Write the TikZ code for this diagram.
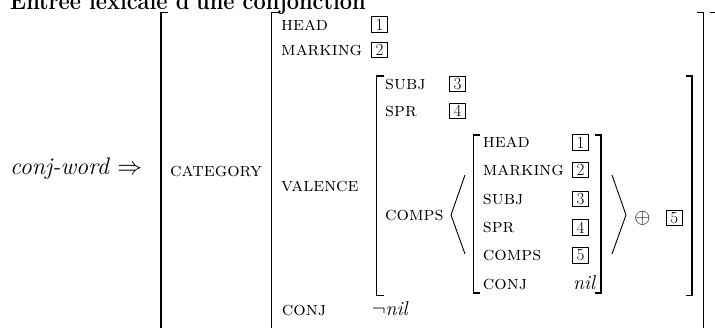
\documentclass[tikz,border=0pt]{standalone}
\usepackage{fontspec}
\usepackage{amsmath,amssymb}
\begin{document}
\begin{tikzpicture}[x=1pt,y=-1pt,
  lbl/.style={anchor=base west, inner sep=0pt, font=\fontsize{19.5}{22}\selectfont\scshape},
  val/.style={anchor=base west, inner sep=0pt, font=\fontsize{20}{23}\selectfont\itshape},
  tagbox/.style={draw, line width=0.6pt, minimum size=15.5pt, inner sep=0pt, font=\fontsize{17}{19}\selectfont},
  brk/.style={line width=1.3pt},
  angle/.style={line width=0.9pt}]
\useasboundingbox (0,0) rectangle (715,328);
\clip (0,0) rectangle (715,328);
% title (cut off at top)
\node[anchor=base west, inner sep=0pt, font=\fontsize{25}{28}\selectfont\bfseries] (title) at (10,9.3) {\scalebox{0.87}[1]{Entrée lexicale d'une conjonction}};
% left
\node[anchor=base west, inner sep=0pt, font=\fontsize{24}{27}\selectfont] (cw) at (10,175) {\textit{conj-word} $\Rightarrow$};
% outer bracket
\draw[brk] (168,12.7) -- (161,12.7) -- (161,340);
\draw[brk] (710,12.7) -- (717.5,12.7) -- (717.5,340);
\node[lbl] (cat) at (170,176.5) {category};
% category bracket
\draw[brk] (279,12.7) -- (271.7,12.7) -- (271.7,340);
\draw[brk] (696.5,12.7) -- (703.5,12.7) -- (703.5,340);
\node[lbl] (head2) at (281,30.7) {head};
\node[tagbox] (t1a) at (379.5,24.5) {1};
\node[lbl] (mark2) at (281,56) {marking};
\node[tagbox] (t2a) at (379.5,50) {2};
\node[lbl] (val2) at (281,191.7) {valence};
\node[lbl] (conj2) at (281.7,315.7) {conj};
\node[anchor=base west, inner sep=0pt, font=\fontsize{20}{23}\selectfont] (nnil) at (371.7,316) {$\neg$\textit{nil}};
% valence bracket
\draw[brk] (383.5,76) -- (376.7,76) -- (376.7,295.5) -- (383.5,295.5);
\draw[brk] (685.5,76) -- (692,76) -- (692,295.5) -- (685.5,295.5);
\node[lbl] (subj3) at (385,89.5) {subj};
\node[tagbox] (t3a) at (457.5,84) {3};
\node[lbl] (spr3) at (385,116.5) {spr};
\node[tagbox] (t4a) at (457.5,111) {4};
\node[lbl] (comps3) at (385,220.5) {comps};
% angle brackets
\draw[angle] (465,175) -- (451,215) -- (465,254);
\draw[angle] (612,175) -- (626,215) -- (612,254);
\node[inner sep=0pt, font=\fontsize{20}{23}\selectfont] (oplus) at (642.5,218) {$\oplus$};
\node[tagbox] (t5a) at (674.3,218) {5};
% inner bracket
\draw[brk] (480,135) -- (473.3,135) -- (473.3,293) -- (480,293);
\draw[brk] (594.5,135) -- (601,135) -- (601,293) -- (594.5,293);
\node[lbl] (head4) at (482.7,148) {head};
\node[tagbox] (t1b) at (580.5,142.5) {1};
\node[lbl] (mark4) at (482.7,175.5) {marking};
\node[tagbox] (t2b) at (580.5,170) {2};
\node[lbl] (subj4) at (482.7,204.5) {subj};
\node[tagbox] (t3b) at (580.5,199) {3};
\node[lbl] (spr4) at (482.7,233) {spr};
\node[tagbox] (t4b) at (580.5,227.5) {4};
\node[lbl] (comps4) at (482.7,261) {comps};
\node[tagbox] (t5b) at (580.5,255.5) {5};
\node[lbl] (conj4) at (482.7,289.5) {conj};
\node[val] (nil4) at (573,289.5) {nil};
\end{tikzpicture}
\end{document}
